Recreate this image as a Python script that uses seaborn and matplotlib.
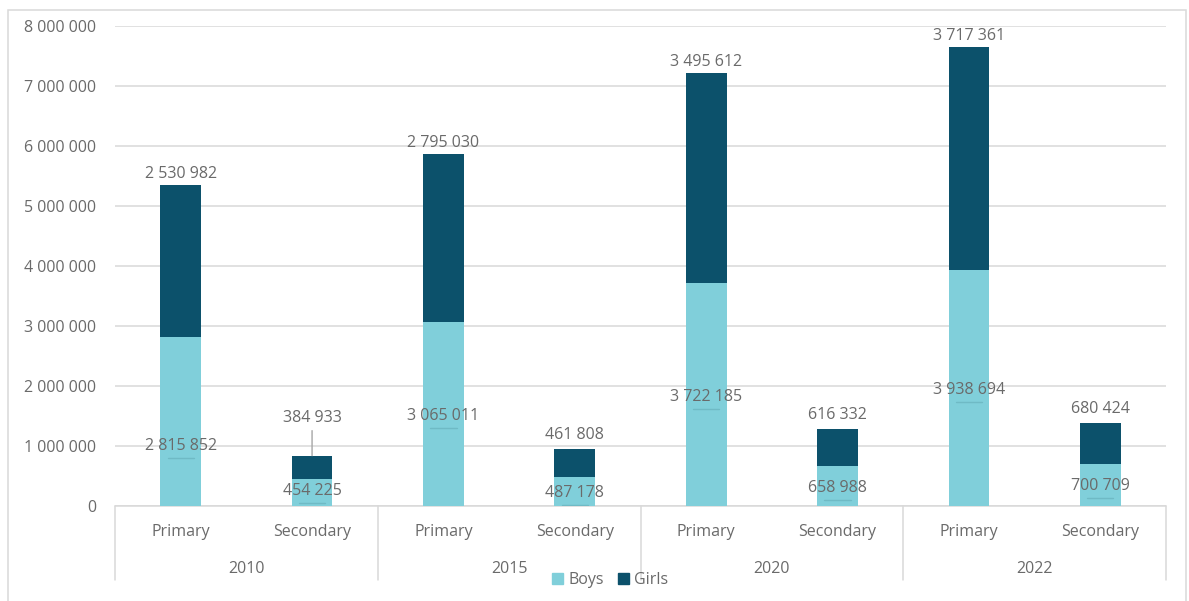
import matplotlib
matplotlib.use("Agg")
import matplotlib.pyplot as plt
import matplotlib.transforms as mtransforms
from matplotlib.patches import Rectangle
import seaborn as sns
import pandas as pd

# Enrolment by level and sex
years = ["2010", "2015", "2020", "2022"]
levels = ["Primary", "Secondary"]
boys = [2815852, 454225, 3065011, 487178, 3722185, 658988, 3938694, 700709]
girls = [2530982, 384933, 2795030, 461808, 3495612, 616332, 3717361, 680424]
y_ticks = [0, 1000000, 2000000, 3000000, 4000000, 5000000, 6000000, 7000000, 8000000]

# Label placement: boys labels sit at a fraction of the boys segment,
# girls labels are lifted above the stack top (pixels)
boys_label_frac = [0.355, 0.55, 0.49, 0.45, 0.49, 0.455, 0.49, 0.48]
girls_label_lift = [11, 38, 11, 14, 11, 14, 11, 14]

BOYS_C = "#80CFDA"
GIRLS_C = "#0C516B"
TEXT_C = "#6A6A6A"
GRID_C = "#D9D9D9"

sns.set_theme(style="white")
plt.rcParams["font.family"] = ["Open Sans", "DejaVu Sans"]

cats = [f"{y} {l}" for y in years for l in levels]
df = pd.DataFrame({
    "cat": cats,
    "boys": boys,
    "total": [b + g for b, g in zip(boys, girls)],
})

fig = plt.figure(figsize=(11.89, 6.01), dpi=100)
W, H = 1189, 601
ax = fig.add_axes([115 / W, 1 - 506 / H, (1166 - 115) / W, (506 - 26) / H])

# Stacked bars: full stack in girls colour, boys segment drawn over it
sns.barplot(data=df, x="cat", y="total", order=cats, color=GIRLS_C,
            width=0.31, saturation=1, ax=ax, linewidth=0, zorder=2)
sns.barplot(data=df, x="cat", y="boys", order=cats, color=BOYS_C,
            width=0.31, saturation=1, ax=ax, linewidth=0, zorder=3)

ax.set_ylim(0, 8000000)
ax.set_xlim(-0.5, len(cats) - 0.5)
ax.set_yticks(y_ticks)
ax.set_yticklabels([f"{v:,}".replace(",", " ") for v in y_ticks],
                   color=TEXT_C, fontsize=11.5)
ax.tick_params(axis="y", length=0, pad=13.5)
ax.set_xticks([])
ax.set_xlabel("")
ax.set_ylabel("")
for s in ax.spines.values():
    s.set_visible(False)
ax.grid(axis="y", color=GRID_C, linewidth=1.1, zorder=0)
ax.set_axisbelow(True)

px = 72 / 100  # points per pixel

# Data labels
for i, (b, g) in enumerate(zip(boys, girls)):
    ly = b * boys_label_frac[i]
    ax.annotate(f"{b:,}".replace(",", " "), (i, ly), ha="center", va="center",
                color=TEXT_C, fontsize=11.5, zorder=5)
    # faint leader dash under the boys label
    ax.plot([i - 0.1, i + 0.1], [ly, ly], transform=ax.transData +
            mtransforms.ScaledTranslation(0, -12 / 100, fig.dpi_scale_trans),
            color="#6FBAC5", linewidth=1, zorder=4)
    top = b + g
    lift = girls_label_lift[i]
    ax.annotate(f"{g:,}".replace(",", " "), (i, top),
                xytext=(0, lift * px), textcoords="offset points",
                ha="center", va="center", color=TEXT_C, fontsize=11.5, zorder=5)
    if lift > 20:
        ax.annotate("", xy=(i, top), xytext=(0, (lift - 13) * px),
                    textcoords="offset points",
                    arrowprops=dict(arrowstyle="-", color="#A6A6A6", lw=1,
                                    shrinkA=0, shrinkB=0))

# Two-level category axis
trans = mtransforms.blended_transform_factory(ax.transData, ax.transAxes)
ax.plot([-0.5, len(cats) - 0.5], [0, 0], transform=trans, color=GRID_C,
        linewidth=1.1, clip_on=False, zorder=1)
sep_bottom = -(580 - 506) / 480
for k in range(len(years) + 1):
    x = -0.5 + 2 * k
    ax.plot([x, x], [0, sep_bottom], transform=trans, color=GRID_C,
            linewidth=1.1, clip_on=False)
for i, c in enumerate(cats):
    ax.text(i, -(532 - 506) / 480, c.split(" ")[1], transform=trans,
            ha="center", va="center", color=TEXT_C, fontsize=11.5)
for k, y in enumerate(years):
    ax.text(2 * k + 0.5, -(569 - 506) / 480, y, transform=trans,
            ha="center", va="center", color=TEXT_C, fontsize=11.5)

# Legend
handles = [Rectangle((0, 0), 1, 1, color=BOYS_C), Rectangle((0, 0), 1, 1, color=GIRLS_C)]
fig.legend(handles, ["Boys", "Girls"], loc="center", bbox_to_anchor=(610 / W, 1 - 580 / H),
           ncol=2, frameon=False, fontsize=11.5, labelcolor=TEXT_C,
           handlelength=0.7, handleheight=0.7, handletextpad=0.3, columnspacing=0.9)

# Chart border
fig.patches.append(Rectangle((8 / W, -0.01), (1186 - 8) / W, 1 - 10 / H + 0.01,
                             transform=fig.transFigure, fill=False,
                             edgecolor=GRID_C, linewidth=1.1))

fig.savefig("out.png", dpi=100, facecolor="white")
